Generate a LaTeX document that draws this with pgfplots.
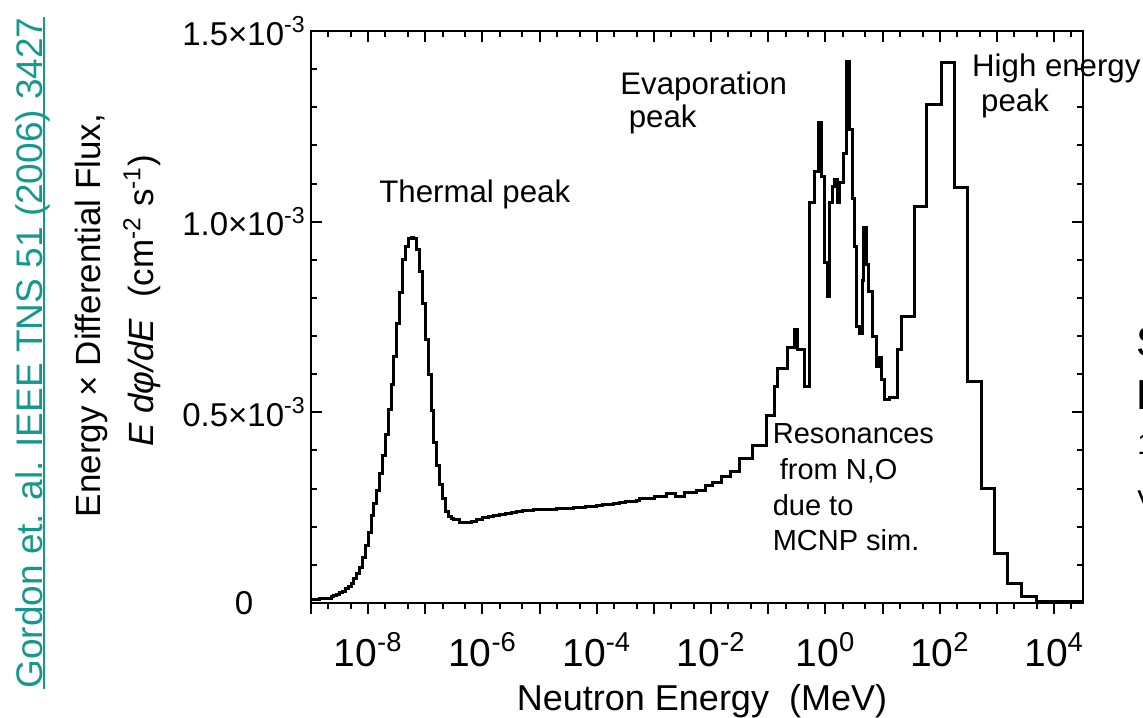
\documentclass[border=0pt]{standalone}
\usepackage{fontspec}
\setmainfont{Liberation Sans}
\usepackage{pgfplots}
\usepackage{pgfplotstable}
\pgfplotsset{compat=1.18}
\definecolor{citeteal}{RGB}{22,152,143}
% underline sitting just under the baseline
\newcommand\baseul[1]{\setbox0\hbox{#1}\rlap{\rule[-1.7pt]{\wd0}{1.1pt}}\box0}

% Energy-weighted neutron flux spectrum; flux in units of 1e-3 cm^-2 s^-1
\pgfplotstableread{
E        flux
1e-9     0.008
1.122e-9 0.009
1.259e-9 0.010
1.413e-9 0.011
1.585e-9 0.011
1.778e-9 0.012
1.995e-9 0.013
2.239e-9 0.016
2.512e-9 0.020
2.818e-9 0.023
3.162e-9 0.027
3.548e-9 0.031
3.981e-9 0.038
4.467e-9 0.044
5.012e-9 0.051
5.623e-9 0.063
6.310e-9 0.077
7.079e-9 0.092
7.943e-9 0.119
8.913e-9 0.150
1.000e-8 0.184
1.122e-8 0.229
1.259e-8 0.261
1.413e-8 0.295
1.585e-8 0.340
1.778e-8 0.387
1.995e-8 0.443
2.239e-8 0.508
2.512e-8 0.573
2.818e-8 0.647
3.162e-8 0.733
3.548e-8 0.813
3.981e-8 0.900
4.467e-8 0.935
5.012e-8 0.957
5.623e-8 0.959
6.310e-8 0.956
7.079e-8 0.928
7.943e-8 0.869
8.913e-8 0.785
1.000e-7 0.690
1.122e-7 0.598
1.259e-7 0.506
1.413e-7 0.422
1.585e-7 0.360
1.778e-7 0.312
1.995e-7 0.273
2.239e-7 0.241
2.512e-7 0.228
2.818e-7 0.221
3.162e-7 0.218
3.981e-7 0.211
5.012e-7 0.212
6.310e-7 0.214
7.943e-7 0.219
1.000e-6 0.224
1.259e-6 0.227
1.585e-6 0.230
1.995e-6 0.232
2.512e-6 0.236
3.162e-6 0.238
3.981e-6 0.240
5.012e-6 0.242
6.310e-6 0.243
7.943e-6 0.244
1.000e-5 0.245
1.259e-5 0.245
1.585e-5 0.246
1.995e-5 0.247
2.512e-5 0.248
3.162e-5 0.249
3.981e-5 0.250
5.012e-5 0.251
6.310e-5 0.252
7.943e-5 0.254
1.000e-4 0.256
1.259e-4 0.257
1.585e-4 0.259
1.995e-4 0.261
2.512e-4 0.263
3.162e-4 0.265
3.981e-4 0.267
5.012e-4 0.270
5.65e-4  0.273
1.03e-3  0.278
1.67e-3  0.286
2.40e-3  0.278
3.45e-3  0.289
5.60e-3  0.296
8.05e-3  0.307
1.07e-2  0.317
1.53e-2  0.331
2.20e-2  0.344
3.16e-2  0.378
5.33e-2  0.414
9.38e-2  0.493
0.1294   0.569
0.1459   0.616
0.2183   0.669
0.2897   0.716
0.3266   0.664
0.4325   0.567
0.530    1.049
0.647    1.131
0.760    1.259
0.859    1.118
0.968    0.892
1.092    0.803
1.183    1.049
1.336    1.091
1.448    1.110
1.633    1.049
1.770    1.102
2.080    1.180
2.349    1.419
2.649    1.241
2.992    1.062
3.238    0.934
3.510    0.724
3.963    0.708
4.470    0.847
4.656    0.984
5.250    0.887
5.690    0.816
6.683    0.698
7.852    0.619
8.872    0.643
9.616    0.585
10.84    0.533
13.25    0.540
18.28    0.664
21.48    0.750
36.25    1.039
58.75    1.306
107.4    1.417
181.6    1.089
306.3    0.580
538.3    0.299
907.8    0.131
1531     0.050
2692     0.016
4920     0.005
8318     0.003
32000    0.003
}\spectrum

\begin{document}
\begin{tikzpicture}
% box, y ticks and top x ticks point inward
\begin{axis}[
    at={(155.5pt,57pt)}, anchor=south west,
    scale only axis, width=386pt, height=286pt,
    xmode=log, xmin=1e-9, xmax=3.2e4, ymin=0, ymax=1.5,
    xtick={1e-9,1e-8,1e-7,1e-6,1e-5,1e-4,1e-3,1e-2,1e-1,1,10,100,1000,10000},
    minor xtick={2e-9,5e-9,2e-8,5e-8,2e-7,5e-7,2e-6,5e-6,2e-5,5e-5,2e-4,5e-4,
      2e-3,5e-3,2e-2,5e-2,0.2,0.5,2,5,20,50,200,500,2000,5000,20000},
    major tick length=5.5pt, minor tick length=3pt,
    every tick/.style={black, line width=1pt},
    tick align=inside,
    xtick pos=right, xticklabels={},
    ytick pos=both, yticklabel pos=left,
    ytick={0,0.5,1,1.5},
    minor ytick={0.1,0.2,0.3,0.4,0.6,0.7,0.8,0.9,1.1,1.2,1.3,1.4},
    yticklabels={0,0.5×10\textsuperscript{-3},1.0×10\textsuperscript{-3},1.5×10\textsuperscript{-3}},
    yticklabel style={font=\fontsize{16.5}{19}\selectfont, anchor=center, xshift=-33.5pt},
    axis line style={line width=1.2pt},
  ]
  \addplot[const plot, black, line width=1.5pt] table[x=E, y=flux] {\spectrum};
\end{axis}
% bottom x ticks point outward
\begin{axis}[
    at={(155.5pt,57pt)}, anchor=south west,
    scale only axis, width=386pt, height=286pt,
    xmode=log, xmin=1e-9, xmax=3.2e4, ymin=0, ymax=1.5,
    xtick={1e-9,1e-8,1e-7,1e-6,1e-5,1e-4,1e-3,1e-2,1e-1,1,10,100,1000,10000},
    minor xtick={2e-9,5e-9,2e-8,5e-8,2e-7,5e-7,2e-6,5e-6,2e-5,5e-5,2e-4,5e-4,
      2e-3,5e-3,2e-2,5e-2,0.2,0.5,2,5,20,50,200,500,2000,5000,20000},
    major tick length=5.25pt, minor tick length=3pt,
    every tick/.style={black, line width=1pt},
    hide y axis, axis x line*=bottom, x axis line style={draw=none},
    tick align=outside, xtick pos=left,
    xticklabels={,10\textsuperscript{-8},,10\textsuperscript{-6},,10\textsuperscript{-4},,10\textsuperscript{-2},,10\textsuperscript{0},,10\textsuperscript{2},,10\textsuperscript{4}},
    xticklabel style={font=\fontsize{19.5}{23}\selectfont, yshift=-6pt},
  ]
\end{axis}

% axis titles
\node[anchor=base, font=\fontsize{18}{21}\selectfont] at (351pt,3.5pt) {Neutron Energy\ \ (MeV)};
\node[rotate=90, anchor=base, font=\fontsize{17.5}{21}\selectfont] at (50pt,200.75pt)
  {Energy × Differential Flux,};
\node[rotate=90, anchor=base, font=\fontsize{17.5}{21}\selectfont] at (76.5pt,208pt)
  {\textit{E dφ/dE}\hspace{0.6em}(cm\textsuperscript{-2} s\textsuperscript{-1})};

% citation
\node[rotate=90, anchor=base, inner sep=0pt, font=\fontsize{18.5}{22}\selectfont, text=citeteal] at (21pt,182pt)
  {\baseul{Gordon et. al. IEEE TNS 51 (2006) 3427}};

% annotations
\begin{scope}[every node/.style={anchor=base west, inner sep=0pt, font=\fontsize{15.6}{18}\selectfont}]
  \node at (189.5pt,257pt) {Thermal peak};
  \node at (310pt,311pt) {Evaporation};
  \node at (314.2pt,294.5pt) {peak};
  \node at (485.9pt,320.2pt) {High energy};
  \node at (490.4pt,302.7pt) {peak};
\end{scope}
\begin{scope}[every node/.style={anchor=base west, inner sep=0pt, font=\fontsize{14.5}{17}\selectfont}]
  \node at (386.2pt,136.5pt) {Resonances};
  \node at (389.7pt,118.5pt) {from N,O};
  \node at (386.2pt,101pt) {due to};
  \node at (386.2pt,83.2pt) {MCNP sim.};
\end{scope}

% text running off the right edge
\node[anchor=base west, inner sep=0pt, font=\fontsize{21}{24}\selectfont] at (568pt,180pt) {S};
\node[anchor=base west, inner sep=0pt, font=\fontsize{21}{24}\selectfont] at (568pt,153.5pt) {E};
\node[anchor=base west, inner sep=0pt, font=\fontsize{15}{18}\selectfont] at (568.5pt,131.25pt) {1};
\node[anchor=base west, inner sep=0pt, font=\fontsize{15}{18}\selectfont] at (568.5pt,102.75pt) {V};

\pgfresetboundingbox
\path[use as bounding box] (0,0) rectangle (571.5pt,358.5pt);
\end{tikzpicture}
\end{document}
